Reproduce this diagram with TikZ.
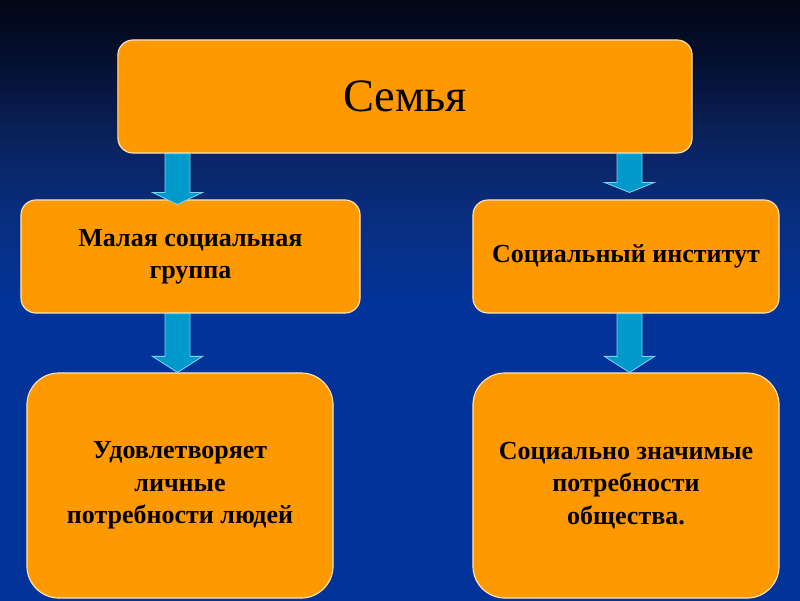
\documentclass[tikz,border=0pt]{standalone}
\usepackage{fontspec}
\setmainfont{Liberation Serif}
\usetikzlibrary{calc}

\definecolor{boxorange}{RGB}{255,153,0}
\definecolor{boxrim}{RGB}{255,228,190}
\definecolor{arrowblue}{RGB}{0,153,204}
\definecolor{arrowrim}{RGB}{125,212,240}
\definecolor{bgtop}{RGB}{2,6,22}
\definecolor{bgdark}{RGB}{5,16,48}
\definecolor{bgmid}{RGB}{10,36,98}
\definecolor{bglow}{RGB}{8,46,128}
\definecolor{bgbot}{RGB}{2,51,153}
\pgfdeclareverticalshading{slidebg}{100bp}{color(0bp)=(bgbot); color(50bp)=(bgbot); color(56.67bp)=(bglow); color(62.5bp)=(bgmid); color(70bp)=(bgdark); color(75bp)=(bgtop); color(100bp)=(bgtop)}

\begin{document}
\begin{tikzpicture}[x=0.025cm, y=-0.025cm,
	box/.style={draw=boxrim, line width=0.8pt, fill=boxorange, rounded corners=0.375cm, inner sep=0pt, align=center},
	tall/.style={box, rounded corners=0.8cm},
	boldtxt/.style={font=\fontsize{18.5}{23}\selectfont\bfseries},
	fat/.style={fill=arrowblue, draw=arrowrim, line width=0.6pt,
		to path={++(-12.5,0) -- ($(\tikztotarget)+(-12.5,-#1)$) -- ++(-12.5,0) -- (\tikztotarget)
			-- ++(25,-#1) -- ++(-12.5,0) -- ($(\tikztostart)+(12.5,0)$) -- cycle}}]
	\shade[shading=slidebg] (0,0) rectangle (800,600);

	\node[box, minimum width=14.35cm, minimum height=2.825cm, font=\fontsize{33}{40}\selectfont]	(fam)	at (405, 96.5)	{Семья};
	\node[box, boldtxt, minimum width=8.475cm, minimum height=2.825cm]	(grp)	at (190.5, 256.5)	{Малая социальная\\группа};
	\node[box, boldtxt, minimum width=7.65cm, minimum height=2.825cm]	(inst)	at (626, 256.5)	{Социальный институт};
	\node[tall, boldtxt, minimum width=7.65cm, minimum height=5.625cm]	(need1)	at (180, 485.5)	{Удовлетворяет\\личные\\потребности людей};
	\node[tall, boldtxt, minimum width=7.65cm, minimum height=5.625cm]	(need2)	at (626, 485.5)	{Социально значимые\\потребности\\общества.};

	\coordinate (ax1) at (177.5, 0);
	\coordinate (ax2) at (629.5, 0);
	\coordinate (s1) at (fam.south -| ax1);
	\coordinate (t1) at ($(grp.north -| ax1)+(0,5)$);
	\coordinate (s2) at (fam.south -| ax2);
	\coordinate (t2) at ($(inst.north -| ax2)+(0,-7)$);
	\coordinate (s3) at (grp.south -| ax1);
	\coordinate (t3) at (need1.north -| ax1);
	\coordinate (s4) at (inst.south -| ax2);
	\coordinate (t4) at (need2.north -| ax2);

	\path	(s1) edge[fat=12] (t1)
			(s2) edge[fat=10] (t2)
			(s3) edge[fat=16] (t3)
			(s4) edge[fat=16] (t4);
\end{tikzpicture}
\end{document}
